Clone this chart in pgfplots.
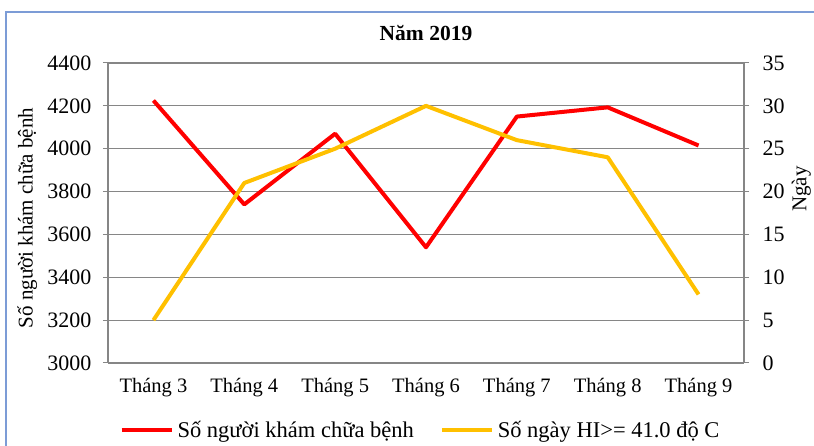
\documentclass[border=0pt]{standalone}
\usepackage{fontspec}
\setmainfont{Liberation Serif}
\usepackage{pgfplots}
\pgfplotsset{compat=1.18}

\definecolor{redline}{RGB}{255,0,0}
\definecolor{goldline}{RGB}{255,192,0}
\definecolor{gridgray}{RGB}{134,134,134}
\definecolor{framecol}{RGB}{124,156,214}

\pgfplotsset{
  common/.style={
    scale only axis,
    width=636pt, height=300pt,
    at={(108pt,83pt)}, anchor=south west,
    xmin=-0.5, xmax=6.5,
    tick align=outside,
    major tick length=5pt,
    every tick/.style={gridgray, line width=1pt},
    axis line style={gridgray, line width=1.2pt},
    yticklabel style={font=\fontsize{22}{24}\selectfont},
    xticklabel style={font=\fontsize{20.5}{23}\selectfont},
    label style={font=\fontsize{21}{24}\selectfont},
    /pgf/number format/assume math mode=true,
    /pgf/number format/1000 sep={},
    legend image code/.code={\draw[#1] (0pt,0pt) -- (50pt,0pt);},
  },
}

\begin{document}
\begin{tikzpicture}
\path[use as bounding box] (0pt,0pt) rectangle (814pt,446pt);
\draw[framecol, line width=1.5pt] (6pt,0pt) -- (6pt,434pt) -- (816pt,434pt);

\begin{axis}[
  common,
  axis x line*=bottom,
  axis y line*=left,
  ymin=3000, ymax=4400,
  ytick={3000,3200,...,4400},
  ymajorgrids=true,
  grid style={gridgray, line width=1.2pt},
  xtick={0,...,6},
  xticklabels={Tháng 3,Tháng 4,Tháng 5,Tháng 6,Tháng 7,Tháng 8,Tháng 9},
  xtick style={draw=none},
  minor xtick={-0.5,0.5,...,6.5},
  minor tick length=5pt,
  xticklabel style={yshift=-7pt},
  yticklabel style={xshift=-8pt},
  ylabel={Số người khám chữa bệnh},
  ylabel style={at={(axis description cs:-0.127,0.483)}, anchor=center},
  title={\textbf{Năm 2019}},
  title style={at={(axis description cs:0.5,1.08)}, anchor=center, font=\fontsize{21.5}{24}\selectfont},
]
\addplot[redline, line width=4pt, line join=round] coordinates {
  (0,4225) (1,3740) (2,4070) (3,3540) (4,4150) (5,4193) (6,4015)
};
\end{axis}

\begin{axis}[
  common,
  axis x line=none,
  axis y line*=right,
  ymin=0, ymax=35,
  ytick={0,5,...,35},
  yticklabel style={xshift=10pt},
  ylabel={Ngày},
  ylabel style={at={(axis description cs:1.09,0.58)}, anchor=center, rotate=0},
  legend style={
    at={(0.493,-0.223)}, anchor=center,
    legend columns=2, draw=none, fill=none,
    font=\fontsize{22.5}{25}\selectfont,
    nodes={inner xsep=4pt},
    /tikz/every even column/.append style={column sep=22pt},
  },
]
\addlegendimage{redline, line width=4pt}
\addlegendentry{Số người khám chữa bệnh}
\addplot[goldline, line width=4pt, line join=round] coordinates {
  (0,5) (1,21) (2,25) (3,30) (4,26) (5,24) (6,8)
};
\addlegendentry{Số ngày HI>= 41.0 độ C}
\end{axis}
\end{tikzpicture}
\end{document}
